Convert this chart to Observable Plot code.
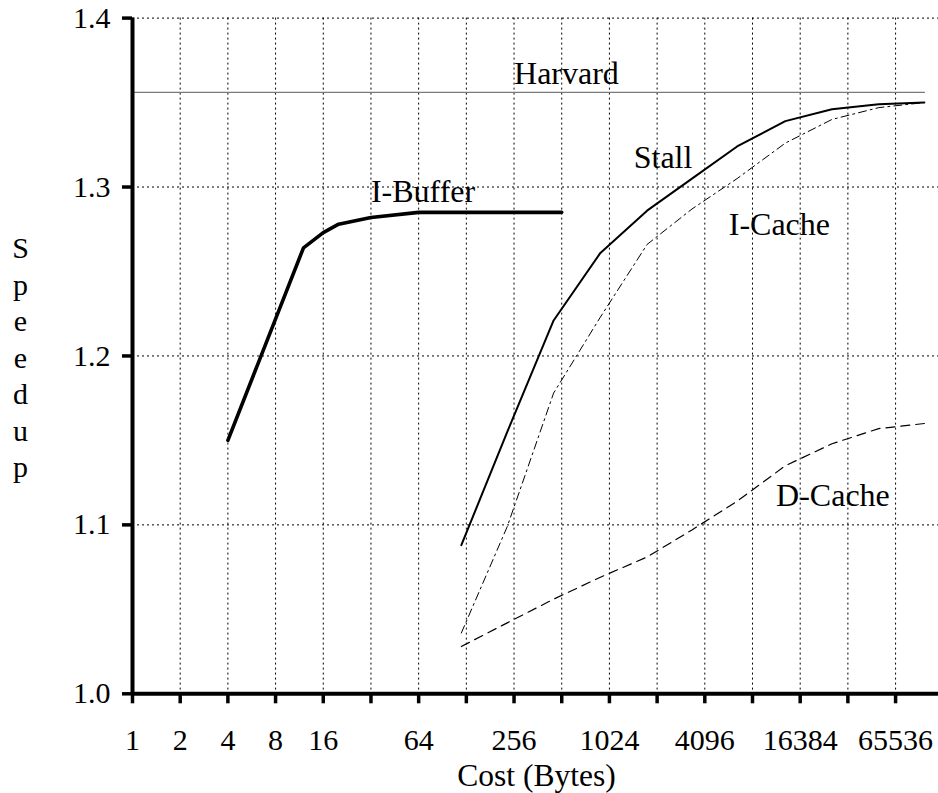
<!DOCTYPE html>
<html>
<head>
<meta charset="utf-8">
<script src="https://cdn.jsdelivr.net/npm/d3@7"></script>
<script src="https://cdn.jsdelivr.net/npm/@observablehq/plot@0.6"></script>
<style>
  html, body { margin: 0; padding: 0; background: #fff; }
  #chart svg { display: block; }
  #chart svg, #chart svg text { font-family: "Liberation Serif", "Times New Roman", Times, serif !important; }
</style>
</head>
<body>
<div id="chart"></div>
<script>
// ---- data ----
const xTicks = [1, 2, 4, 8, 16, 32, 64, 128, 256, 512, 1024, 2048, 4096, 8192, 16384, 32768, 65536];
const xTickLabels = [1, 2, 4, 8, 16, 64, 256, 1024, 4096, 16384, 65536];
const yTicks = [1.0, 1.1, 1.2, 1.3, 1.4];

const iBufferX = [4, 12, 16, 20, 32, 64, 128, 256, 512];
const iBufferY = [1.150, 1.264, 1.273, 1.278, 1.282, 1.285, 1.285, 1.285, 1.285];

const cacheX  = [119, 232, 455, 898, 1770, 3400, 6550, 13200, 26000, 51300, 99600];
const stallY  = [1.088, 1.155, 1.221, 1.261, 1.286, 1.305, 1.324, 1.339, 1.346, 1.349, 1.350];
const iCacheY = [1.036, 1.099, 1.178, 1.223, 1.266, 1.287, 1.305, 1.326, 1.340, 1.347, 1.350];
const dCacheY = [1.028, 1.042, 1.056, 1.069, 1.081, 1.097, 1.114, 1.135, 1.148, 1.157, 1.160];

const harvardX = [1, 99600];
const harvardY = 1.356;

const labelText = ["Harvard", "I-Buffer", "Stall", "I-Cache", "D-Cache"];
const labelX = [256, 32, 1458, 5800, 11540];
const labelY = [1.361, 1.2913, 1.3114, 1.2718, 1.1114];

// ---- build tables ----
const iBuffer = iBufferX.map((x, i) => ({x, y: iBufferY[i]}));
const stall = cacheX.map((x, i) => ({x, y: stallY[i]}));
const iCache = cacheX.map((x, i) => ({x, y: iCacheY[i]}));
const dCache = cacheX.map((x, i) => ({x, y: dCacheY[i]}));
const harvard = harvardX.map(x => ({x, y: harvardY}));
const labels = labelText.map((t, i) => ({t, x: labelX[i], y: labelY[i]}));
const labelSet = new Set(xTickLabels);

const chart = Plot.plot({
  width: 938,
  height: 793,
  marginLeft: 132,
  marginRight: 0,
  marginTop: 17.6,
  marginBottom: 99.7,
  style: {fontSize: "30px", background: "#fff", color: "#000"},
  x: {type: "log", base: 2, domain: [1, 122300]},
  y: {domain: [1.0, 1.4]},
  marks: [
    Plot.gridX({ticks: xTicks.slice(1), stroke: "#000", strokeOpacity: 1, strokeWidth: 1, strokeDasharray: "2,3"}),
    Plot.gridY({ticks: yTicks.slice(1), stroke: "#000", strokeOpacity: 1, strokeWidth: 1, strokeDasharray: "2,3"}),
    Plot.line(harvard, {x: "x", y: "y", stroke: "#7a7a7a", strokeWidth: 1.3}),
    Plot.line(dCache, {x: "x", y: "y", stroke: "#000", strokeWidth: 1.2, strokeDasharray: "9,6", strokeLinejoin: "miter"}),
    Plot.line(iCache, {x: "x", y: "y", stroke: "#000", strokeWidth: 1, strokeDasharray: "8,4,2,4", strokeLinejoin: "miter"}),
    Plot.line(stall, {x: "x", y: "y", stroke: "#000", strokeWidth: 2, strokeLinejoin: "miter"}),
    Plot.line(iBuffer, {x: "x", y: "y", stroke: "#000", strokeWidth: 3.6, strokeLinejoin: "miter"}),
    Plot.text(labels, {x: "x", y: "y", text: "t", textAnchor: "start", lineAnchor: "bottom", fontSize: 32, fill: "#000"}),
    Plot.ruleX([1], {stroke: "#000", strokeWidth: 4}),
    Plot.ruleY([1.0], {stroke: "#000", strokeWidth: 4}),
    Plot.axisX({ticks: xTicks, tickSize: 10, tickPadding: 24.5, strokeWidth: 3.5,
      tickFormat: d => labelSet.has(d) ? String(d) : "", label: null, fontSize: 30}),
    Plot.axisY({ticks: yTicks, tickSize: 10, tickPadding: 12, strokeWidth: 3.5,
      tickFormat: d3.format(".1f"), label: null, fontSize: 30}),
    Plot.text(["Cost (Bytes)"], {frameAnchor: "bottom", dx: 1, dy: 92, lineAnchor: "bottom", fontSize: 31.5, fill: "#000"}),
    Plot.text(["S\np\ne\ne\nd\nu\np"], {frameAnchor: "left", dx: -112, textAnchor: "middle", lineAnchor: "middle", lineHeight: 1.2167, fontSize: 30, fill: "#000"})
  ]
});
document.getElementById("chart").appendChild(chart);
</script>
</body>
</html>
